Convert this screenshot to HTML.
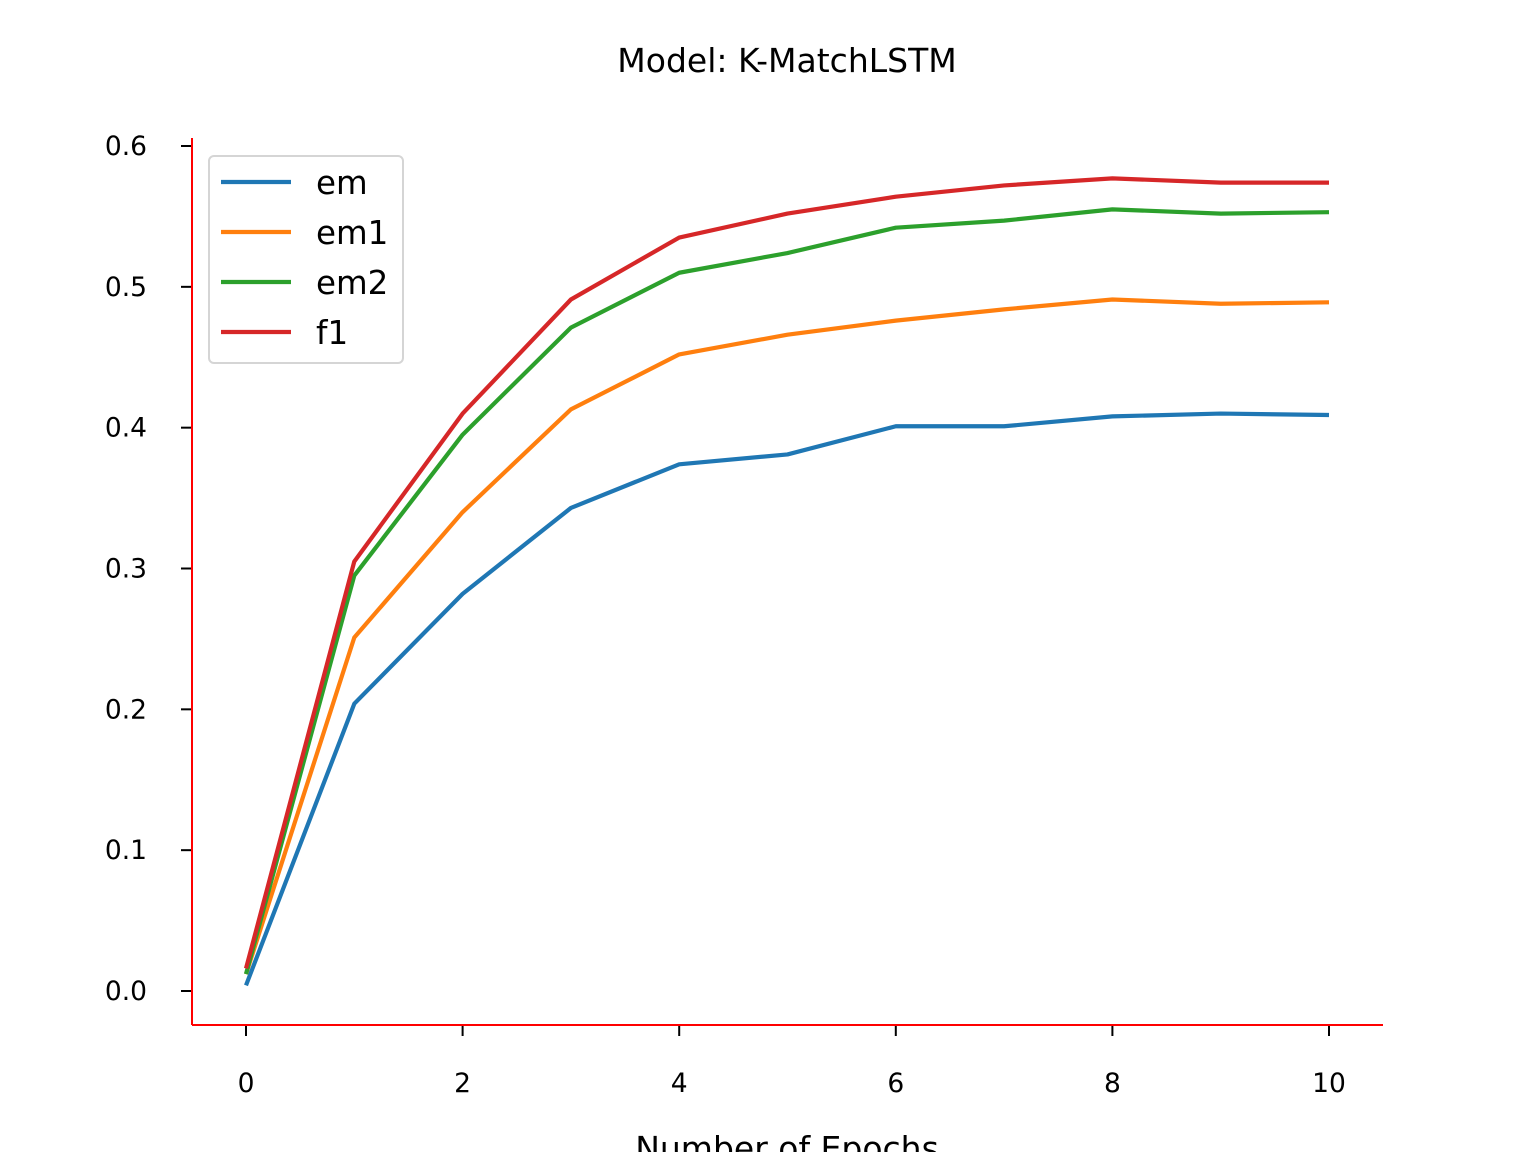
<!DOCTYPE html>
<html><head><meta charset="utf-8"><style>
html,body{margin:0;padding:0;background:#fff;}
svg{display:block;font-family:"DejaVu Sans","Liberation Sans",sans-serif;}
</style></head><body>
<svg id="chart" width="1536" height="1152" viewBox="0 0 1536 1152">
<rect width="1536" height="1152" fill="#fff"/>
<text x="787" y="72" font-size="33" text-anchor="middle">Model: K-MatchLSTM</text>
<g id="ticks"></g>
<g id="series"></g>
<line x1="192" y1="138" x2="192" y2="1025" stroke="#ff0000" stroke-width="2"/>
<line x1="192" y1="1025" x2="1383" y2="1025" stroke="#ff0000" stroke-width="2"/>
<text x="787" y="1160" font-size="33" text-anchor="middle">Number of Epochs</text>
<g id="legend">
<rect x="209" y="156" width="194" height="207" rx="5" fill="#fff" fill-opacity="0.8" stroke="#d5d5d5" stroke-width="2"/>
</g>
</svg>
<script>
const epochs=[0,1,2,3,4,5,6,7,8,9,10];
const em=[0.004,0.204,0.282,0.343,0.374,0.381,0.401,0.401,0.408,0.410,0.409];
const em1=[0.012,0.251,0.340,0.413,0.452,0.466,0.476,0.484,0.491,0.488,0.489];
const em2=[0.012,0.295,0.395,0.471,0.510,0.524,0.542,0.547,0.555,0.552,0.553];
const f1=[0.016,0.305,0.410,0.491,0.535,0.552,0.564,0.572,0.577,0.574,0.574];
const seriesNames=["em","em1","em2","f1"];
const seriesColors=["#1f77b4","#ff7f0e","#2ca02c","#d62728"];
const xTicks=[0,2,4,6,8,10];
const yTicks=[0.0,0.1,0.2,0.3,0.4,0.5,0.6];
const yTickLabels=["0.0","0.1","0.2","0.3","0.4","0.5","0.6"];
const NS="http://www.w3.org/2000/svg";
function xs(v){return 246+v*(1329-246)/10;}
function ys(v){return 991-v*(991-146)/0.6;}
function mk(t,a){const e=document.createElementNS(NS,t);for(const k in a)e.setAttribute(k,a[k]);return e;}
const tg=document.getElementById('ticks');
yTicks.forEach((v,i)=>{
  const l=mk('line',{x1:181,x2:192,y1:ys(v),y2:ys(v),stroke:'#000','stroke-width':2});
  
  
  tg.appendChild(l);
  const t=mk('text',{x:147,y:ys(v)+9,'font-size':26.5,'text-anchor':'end'});
  t.textContent=yTickLabels[i];
  
  
  tg.appendChild(t);
});
xTicks.forEach(v=>{
  const l=mk('line',{x1:xs(v),x2:xs(v),y1:1025,y2:1036,stroke:'#000','stroke-width':2});
  
  
  tg.appendChild(l);
  const t=mk('text',{x:xs(v),y:1092,'font-size':26.5,'text-anchor':'middle'});
  t.textContent=String(v);
  
  
  tg.appendChild(t);
});
const sg=document.getElementById('series');
const lg=document.getElementById('legend');
[em,em1,em2,f1].forEach((d,i)=>{
  const p=mk('polyline',{points:d.map((v,j)=>xs(epochs[j])+','+ys(v)).join(' '),fill:'none',stroke:seriesColors[i],'stroke-width':4.2,'stroke-linejoin':'round'});
  
  
  sg.appendChild(p);
  const y=182+i*50;
  const g=mk('g',{});
  
  
  g.appendChild(mk('line',{x1:221,x2:291,y1:y,y2:y,stroke:seriesColors[i],'stroke-width':4.2}));
  const t=mk('text',{x:316,y:y+12,'font-size':32.5});
  t.textContent=seriesNames[i];
  g.appendChild(t);
  lg.appendChild(g);
});
</script>
</body></html>
